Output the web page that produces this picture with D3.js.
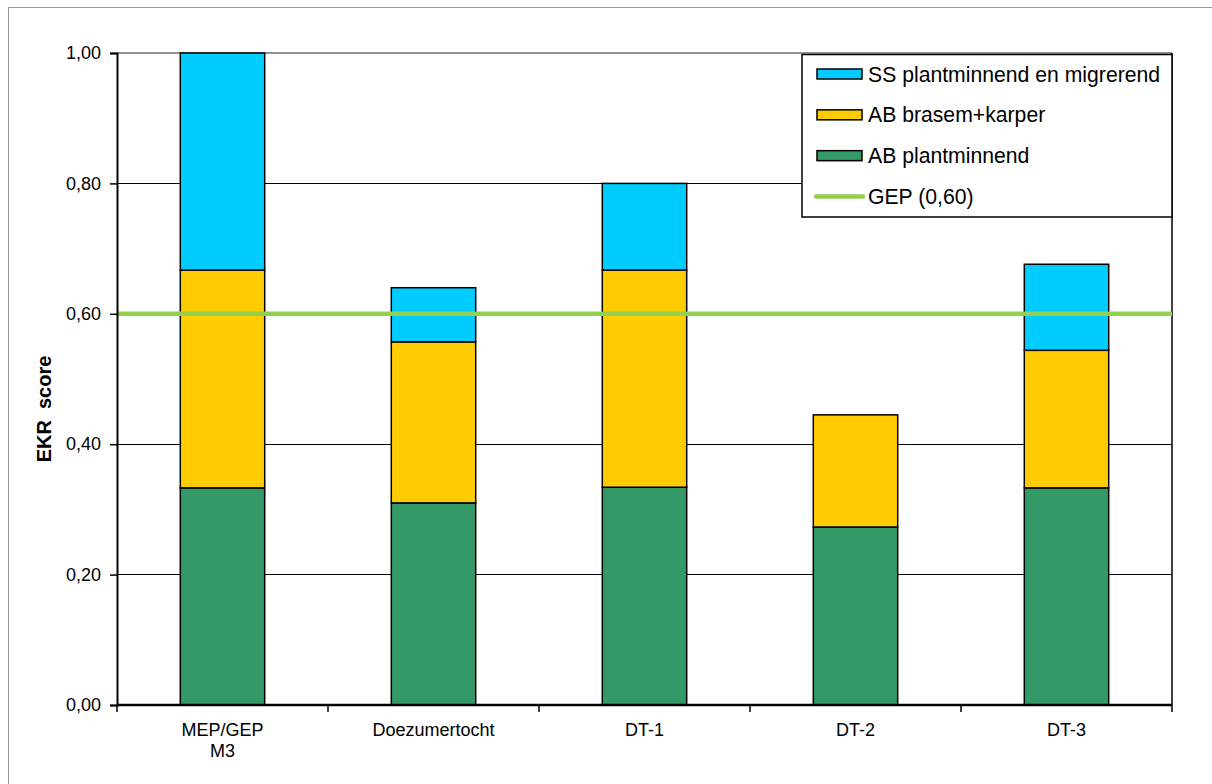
<!DOCTYPE html>
<html>
<head>
<meta charset="utf-8">
<script src="https://cdn.jsdelivr.net/npm/d3@7"></script>
<style>
  html, body { margin: 0; padding: 0; background: #fff; }
  svg { display: block; font-family: "Liberation Sans", Arial, sans-serif; }
</style>
</head>
<body>
<svg id="chart" width="1212" height="784"></svg>
<script>
// Categories (multi-line labels split on "\n")
const categories = ["MEP/GEP\nM3", "Doezumertocht", "DT-1", "DT-2", "DT-3"];

// Stacked series, bottom to top
const abPlantminnend = [0.333, 0.310, 0.334, 0.273, 0.333];
const abBrasemKarper = [0.334, 0.247, 0.333, 0.172, 0.211];
const ssPlantMigr    = [0.333, 0.083, 0.133, 0.000, 0.132];

const seriesNames  = ["AB plantminnend", "AB brasem+karper", "SS plantminnend en migrerend"];
const seriesColors = ["#339966", "#FFCC00", "#00CCFF"];

const gepValue = 0.60;
const gepLabel = "GEP (0,60)";
const yTicks = [0, 0.2, 0.4, 0.6, 0.8, 1.0];
const yTitle = "EKR  score";

const svg = d3.select("#chart");
const plot = { left: 117, right: 1172, top: 53, bottom: 705 };

// Outer frame of the chart area
svg.append("rect")
  .attr("x", 8.5).attr("y", 7.5)
  .attr("width", 1220).attr("height", 800)
  .attr("fill", "#fff").attr("stroke", "#9a9a9a").attr("stroke-width", 1);

const x = d3.scaleBand().domain(categories).range([plot.left, plot.right]).padding(0);
const y = d3.scaleLinear().domain([0, 1]).range([plot.bottom, plot.top]);

// Gridlines
svg.append("g").selectAll("line")
  .data(yTicks.filter(t => t > 0 && t < 1))
  .join("line")
  .attr("x1", plot.left).attr("x2", plot.right)
  .attr("y1", d => y(d)).attr("y2", d => y(d))
  .attr("stroke", "#000").attr("stroke-width", 1).attr("shape-rendering", "crispEdges");

// Plot area top and right edges
svg.append("line")
  .attr("x1", plot.left).attr("x2", plot.right)
  .attr("y1", y(1)).attr("y2", y(1))
  .attr("stroke", "#6e6e6e").attr("stroke-width", 1.5);
svg.append("line")
  .attr("x1", plot.right).attr("x2", plot.right)
  .attr("y1", y(1)).attr("y2", y(0))
  .attr("stroke", "#000").attr("stroke-width", 1.5);

// Stacked bars
const rows = categories.map((c, i) => ({
  cat: c,
  s0: abPlantminnend[i],
  s1: abBrasemKarper[i],
  s2: ssPlantMigr[i]
}));
const stack = d3.stack().keys(["s0", "s1", "s2"]);
const stacked = stack(rows);
const barW = x.bandwidth() * 0.4;

svg.append("g").selectAll("g")
  .data(stacked)
  .join("g")
  .attr("fill", (d, i) => seriesColors[i])
  .selectAll("rect")
  .data(d => d.filter(p => p[1] - p[0] > 0))
  .join("rect")
  .attr("x", d => x(d.data.cat) + (x.bandwidth() - barW) / 2)
  .attr("width", barW)
  .attr("y", d => y(d[1]))
  .attr("height", d => y(d[0]) - y(d[1]))
  .attr("stroke", "#000").attr("stroke-width", 1.5);

// GEP reference line
svg.append("line")
  .attr("x1", plot.left).attr("x2", plot.right)
  .attr("y1", y(gepValue)).attr("y2", y(gepValue))
  .attr("stroke", "#92D050").attr("stroke-width", 4.5);

// Y axis
const yAxis = d3.axisLeft(y).tickValues(yTicks).tickSize(7).tickPadding(9)
  .tickFormat(d => d3.format(".2f")(d).replace(".", ","));
const gy = svg.append("g").attr("transform", `translate(${plot.left},0)`).call(yAxis);
gy.select(".domain").attr("stroke", "#000").attr("stroke-width", 2);
gy.selectAll(".tick line").attr("stroke", "#000").attr("stroke-width", 1.5);
gy.selectAll(".tick text").attr("font-size", 18).attr("fill", "#000")
  .attr("font-family", "Liberation Sans, Arial, sans-serif");

// X axis with ticks between categories
const gx = svg.append("g").attr("transform", `translate(0,${plot.bottom})`);
gx.append("line")
  .attr("x1", plot.left).attr("x2", plot.right)
  .attr("y1", 0).attr("y2", 0)
  .attr("stroke", "#000").attr("stroke-width", 2.5);
const bounds = categories.map(c => x(c)).concat([x(categories[categories.length - 1]) + x.bandwidth()]);
gx.selectAll("line.tk")
  .data(bounds)
  .join("line").attr("class", "tk")
  .attr("x1", d => d).attr("x2", d => d)
  .attr("y1", 0).attr("y2", 7)
  .attr("stroke", "#000").attr("stroke-width", 1.5);

const labels = gx.selectAll("text.cat")
  .data(categories)
  .join("text").attr("class", "cat")
  .attr("x", d => x(d) + x.bandwidth() / 2)
  .attr("y", 31)
  .attr("text-anchor", "middle")
  .attr("font-size", 18).attr("fill", "#000");
labels.each(function(d) {
  const t = d3.select(this);
  d.split("\n").forEach((line, i) => {
    t.append("tspan").attr("x", x(d) + x.bandwidth() / 2).attr("dy", i === 0 ? 0 : 21).text(line);
  });
});

// Y axis title
svg.append("text")
  .attr("transform", `translate(51,409) rotate(-90)`)
  .attr("text-anchor", "middle")
  .attr("font-size", 20).attr("font-weight", "bold").attr("fill", "#000")
  .attr("xml:space", "preserve")
  .style("white-space", "pre")
  .text(yTitle);

// Legend
const legend = svg.append("g");
legend.append("rect")
  .attr("x", 802).attr("y", 54.5).attr("width", 370).attr("height", 162.5)
  .attr("fill", "#fff").attr("stroke", "#000").attr("stroke-width", 1.5);

const legendItems = [
  { name: seriesNames[2], color: seriesColors[2], type: "box" },
  { name: seriesNames[1], color: seriesColors[1], type: "box" },
  { name: seriesNames[0], color: seriesColors[0], type: "box" },
  { name: gepLabel, color: "#92D050", type: "line" }
];
const ly = d3.scalePoint().domain(d3.range(legendItems.length)).range([74, 196.5]);

legendItems.forEach((it, i) => {
  const cy = ly(i);
  if (it.type === "box") {
    legend.append("rect")
      .attr("x", 817).attr("y", cy - 5).attr("width", 45).attr("height", 10)
      .attr("fill", it.color).attr("stroke", "#000").attr("stroke-width", 1.5);
  } else {
    legend.append("line")
      .attr("x1", 816).attr("x2", 863).attr("y1", cy).attr("y2", cy)
      .attr("stroke", it.color).attr("stroke-width", 4.5).attr("stroke-linecap", "round");
  }
  legend.append("text")
    .attr("x", 868).attr("y", cy)
    .attr("dy", "0.36em")
    .attr("font-size", 21.2).attr("fill", "#000")
    .text(it.name);
});
</script>
</body>
</html>
